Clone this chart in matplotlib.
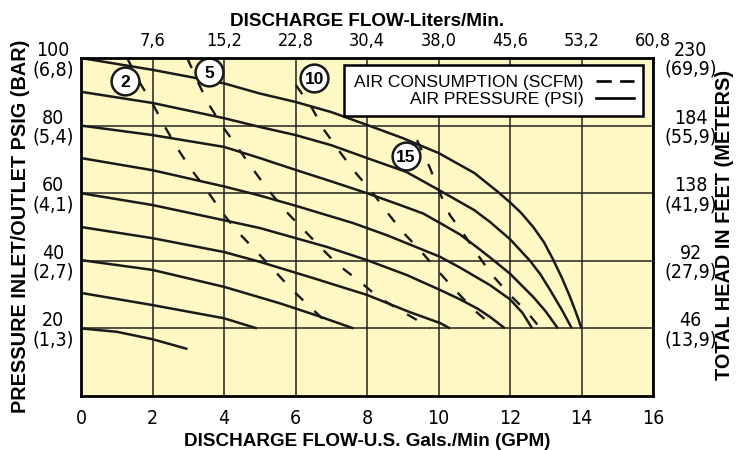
import matplotlib
matplotlib.use("Agg")
import matplotlib.pyplot as plt
from matplotlib.lines import Line2D

SANS = ["Liberation Sans", "DejaVu Sans"]
plt.rcParams["font.family"] = ["DejaVu Sans"]
plt.rcParams["font.stretch"] = "condensed"
plt.rcParams["lines.scale_dashes"] = False

# air pressure curves (PSI): x = GPM, y = PSIG
p100_x = [0, 2, 4, 5, 6, 7, 8, 9, 10, 11, 11.65, 12, 12.3, 12.65, 12.95, 13.2, 13.45, 13.68, 13.87, 14.0]
p100_y = [100, 96.5, 92.5, 89.5, 87, 84, 80.2, 76.3, 71.9, 66, 60.5, 57.3, 54.3, 50, 45.5, 40.5, 35, 29.3, 24, 20]
p90_x = [0, 2, 4, 5, 6, 7, 8, 9.1, 10, 11, 11.44, 12, 12.56, 12.85, 13.12, 13.45, 13.73]
p90_y = [90, 86.7, 82.2, 79.6, 77.2, 74.2, 70.4, 66.3, 61, 55, 51.5, 46.4, 40, 36, 31.4, 25.5, 20]
p80_x = [0, 2, 4, 5, 6, 7, 8, 8.9, 9.57, 10.04, 10.6, 11.1, 11.44, 12, 12.65, 13.0, 13.34]
p80_y = [80, 77.2, 73.7, 70.4, 66.9, 63.5, 60, 56.6, 54, 51.2, 47.8, 43.8, 41, 36.2, 29.3, 25, 20]
p70_x = [0, 2, 4, 5, 6, 7.6, 8.55, 10.04, 10.6, 11.44, 12, 12.35, 12.62]
p70_y = [70.4, 66.8, 62, 59.3, 56.3, 51.2, 47.6, 41.2, 38, 32.8, 28.6, 24.6, 20]
p60_x = [0, 2, 4, 5, 6.88, 8, 9.11, 10.04, 10.6, 11.1, 11.44, 11.86]
p60_y = [60, 56.5, 52, 49.7, 44.1, 40.2, 35.8, 31.4, 28.6, 25.8, 23.4, 20]
p50_x = [0, 2, 4, 5, 6.49, 8, 9.2, 10.04, 10.32]
p50_y = [50, 46.7, 42.6, 39.7, 34.9, 29.9, 24.8, 21.6, 20]
p40_x = [0, 2, 4, 5.57, 6.6, 7.62]
p40_y = [40.2, 37.3, 32.3, 27.4, 23.8, 20]
p30_x = [0, 2, 4, 4.92]
p30_y = [30.5, 26.9, 23, 20]
p20_x = [0, 1, 2, 2.98]
p20_y = [20, 19, 16.8, 13.9]

# air consumption curves (SCFM)
c2_x = [1.29, 1.65, 1.99, 2.35, 2.69, 3.05, 3.52, 3.94, 4.39, 4.87, 5.34, 5.85, 6.41, 7.05]
c2_y = [100, 92.6, 86.7, 79.6, 73.4, 67.5, 60.9, 54.4, 48.5, 43.2, 37.9, 32, 26.3, 20]
c5_x = [2.97, 3.27, 3.55, 3.97, 4.39, 4.78, 5.2, 5.7, 6.18, 6.69, 7.19, 7.75, 8.31, 8.92, 9.54, 9.76]
c5_y = [100, 92.9, 86.7, 79.6, 73.4, 67.5, 61.5, 55, 49.7, 44.1, 38.8, 34.3, 29.3, 25.4, 21.6, 20]
c10_x = [6.01, 6.46, 6.8, 7.24, 7.66, 8.14, 8.56, 9.0, 9.48, 9.96, 10.46, 11.0, 11.6]
c10_y = [92, 85.2, 78.7, 72.2, 66.3, 60.4, 54.4, 48.5, 43.2, 37.3, 31.4, 25.4, 20]
c15_x = [9.4, 9.76, 10.04, 10.32, 10.7, 11.1, 11.5, 12.0, 12.5, 12.85]
c15_y = [75.7, 67.5, 60, 53.5, 48, 41.7, 35.8, 29.9, 24.6, 20]

bubble_x = [1.23, 3.58, 6.52, 9.09]
bubble_y = [93.2, 95.9, 94.1, 71.0]
bubble_labels = ["2", "5", "10", "15"]

gpm_ticks = [0, 2, 4, 6, 8, 10, 12, 14, 16]
lpm_ticks = [7.6, 15.2, 22.8, 30.4, 38.0, 45.6, 53.2, 60.8]
lpm_labels = ["7,6", "15,2", "22,8", "30,4", "38,0", "45,6", "53,2", "60,8"]
psi_ticks = [20, 40, 60, 80, 100]
psi_labels = ["20\n(1,3)", "40\n(2,7)", "60\n(4,1)", "80\n(5,4)", "100\n(6,8)"]
ft_ticks = [46, 92, 138, 184, 230]
ft_labels = ["46\n(13,9)", "92\n(27,9)", "138\n(41,9)", "184\n(55,9)", "230\n(69,9)"]

pressure_curves = [(p100_x, p100_y), (p90_x, p90_y), (p80_x, p80_y), (p70_x, p70_y),
                   (p60_x, p60_y), (p50_x, p50_y), (p40_x, p40_y), (p30_x, p30_y),
                   (p20_x, p20_y)]
air_curves = [(c2_x, c2_y), (c5_x, c5_y), (c10_x, c10_y), (c15_x, c15_y)]

fig = plt.figure(figsize=(7.51, 4.5), dpi=100)
ax = fig.add_axes([81 / 751, 1 - 396 / 450, 572 / 751, 338 / 450])
ax.set_facecolor("#fef8c4")
ax.set_xlim(0, 16)
ax.set_ylim(0, 100)

ax.set_xticks(gpm_ticks)
ax.set_xticklabels([str(t) for t in gpm_ticks])
ax.set_yticks(psi_ticks)
ax.set_yticklabels(psi_labels)
ax.grid(True, color="#222222", lw=1.1, zorder=1)
ax.set_axisbelow(True)
ax.tick_params(length=0, labelsize=14)
ax.tick_params(axis="x", pad=9)
ax.tick_params(axis="y", pad=20)
for lab in ax.get_yticklabels():
    lab.set_ha("center")
    lab.set_linespacing(1.0)
for sp in ax.spines.values():
    sp.set_linewidth(2.0)
    sp.set_color("black")
    sp.set_zorder(7)

for xs, ys in pressure_curves:
    ax.plot(xs, ys, color="#1a1a1a", lw=1.8, solid_capstyle="butt",
            solid_joinstyle="round", zorder=3)
for xs, ys in air_curves:
    ax.plot(xs, ys, color="#1a1a1a", lw=1.7, dashes=(8, 11), dash_capstyle="butt", zorder=3)

ax.plot(bubble_x, bubble_y, "o", ms=20, mfc="white", mec="#1a1a1a", mew=1.8, zorder=5)
for bx, by, bl in zip(bubble_x, bubble_y, bubble_labels):
    ax.annotate(bl, (bx, by), xytext=(0, -4.4), textcoords="offset points",
                ha="center", va="baseline", fontsize=12.5, fontweight="bold",
                family=SANS, fontstretch="normal", zorder=6)

# top axis in liters/min, right axis in feet of head
top = ax.secondary_xaxis("top", functions=(lambda g: g * 3.8, lambda l: l / 3.8))
top.set_xticks(lpm_ticks)
top.set_xticklabels(lpm_labels)
top.tick_params(length=0, labelsize=13, pad=6)
right = ax.secondary_yaxis("right", functions=(lambda p: p * 2.3, lambda f: f / 2.3))
right.set_yticks(ft_ticks)
right.set_yticklabels(ft_labels)
right.tick_params(length=0, labelsize=14, pad=27)
for lab in right.get_yticklabels():
    lab.set_ha("center")
    lab.set_linespacing(1.0)
for sec in (top, right):
    for sp in sec.spines.values():
        sp.set_visible(False)

handles = [Line2D([], [], color="black", lw=1.9, dashes=(11, 6)),
           Line2D([], [], color="black", lw=1.9)]
leg = ax.legend(handles, ["AIR CONSUMPTION (SCFM)", "AIR PRESSURE (PSI)"],
                loc="upper right", bbox_to_anchor=(0.983, 0.979), borderaxespad=0,
                markerfirst=False, fancybox=False, framealpha=1, edgecolor="black",
                prop={"family": SANS, "size": 12.5, "stretch": "normal"},
                handlelength=2.2, handletextpad=0.7, borderpad=0.55, labelspacing=0.1)
leg.get_frame().set_linewidth(1.8)
leg.set_zorder(8)

label_font = dict(fontweight="bold", family=SANS, fontstretch="normal")
fig.text(367 / 751, 1 - 26 / 450, "DISCHARGE FLOW-Liters/Min.", ha="center",
         va="baseline", fontsize=13.6, **label_font)
fig.text(367 / 751, 1 - 446 / 450, "DISCHARGE FLOW-U.S. Gals./Min (GPM)", ha="center",
         va="baseline", fontsize=13.6, **label_font)
fig.text(21 / 751, 1 - 226 / 450, "PRESSURE INLET/OUTLET PSIG (BAR)", rotation=90,
         ha="center", va="center", fontsize=14.3, **label_font)
fig.text(725 / 751, 1 - 225 / 450, "TOTAL HEAD IN FEET (METERS)", rotation=90,
         ha="center", va="center", fontsize=14.3, **label_font)

fig.savefig("out.png", dpi=100, facecolor="white")
